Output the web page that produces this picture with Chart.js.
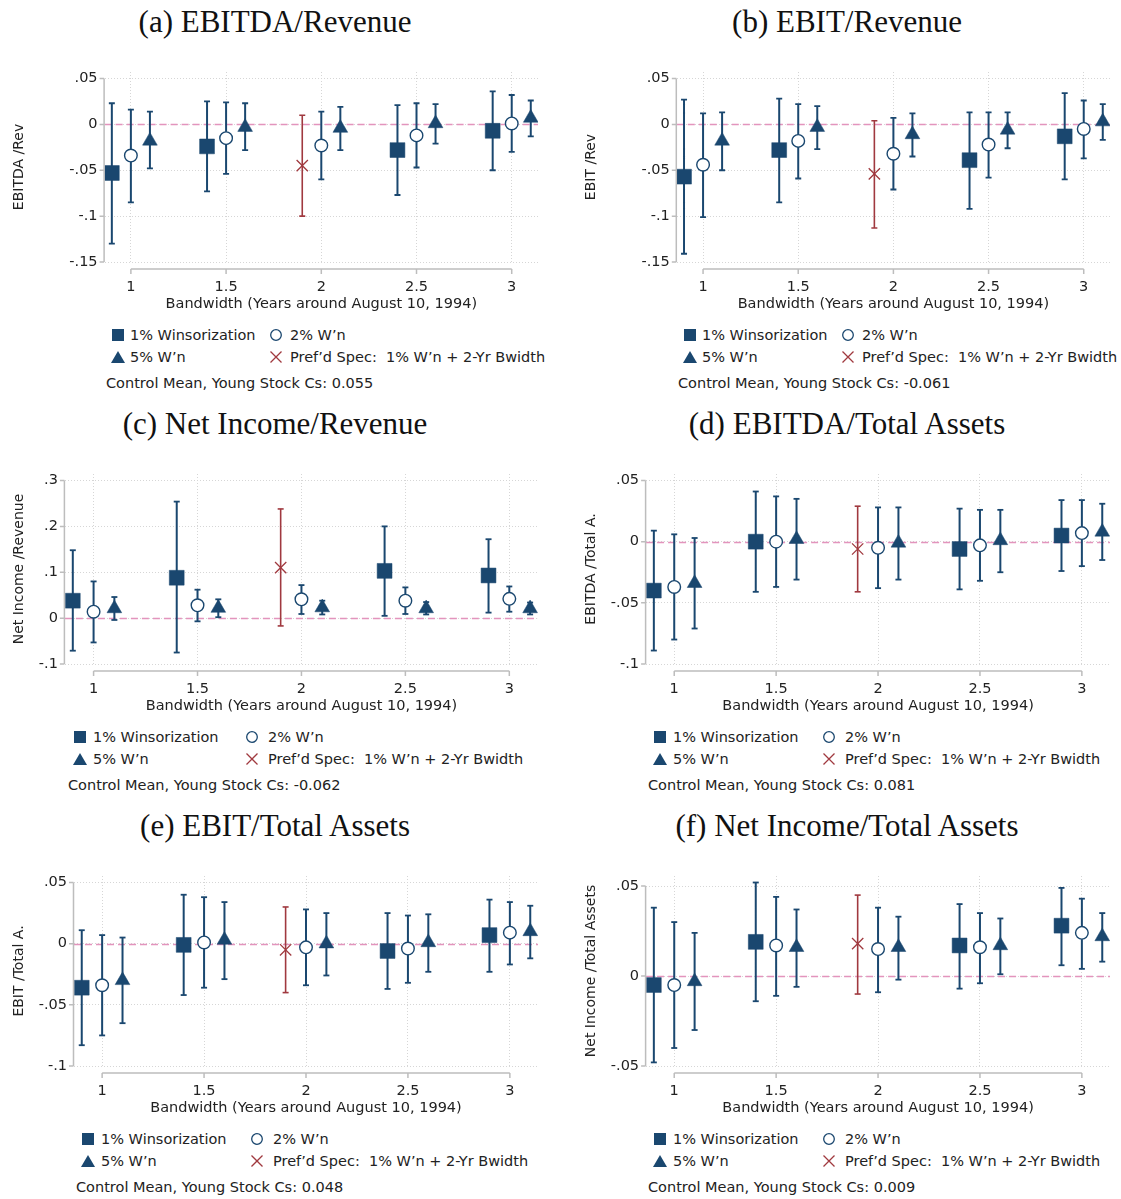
<!DOCTYPE html>
<html><head><meta charset="utf-8">
<script src="https://cdn.jsdelivr.net/npm/chart.js@4.4.1/dist/chart.umd.min.js"></script>
<style>
body{margin:0;background:#fff;}
#wrap{position:relative;width:1121px;height:1199px;overflow:hidden;font-family:"DejaVu Sans",sans-serif;color:#222;}
.ttl{position:absolute;font-family:"Liberation Serif",serif;font-size:31px;white-space:nowrap;transform:translate(-50%,-50%);color:#111;}
canvas{position:absolute;}
.lg{position:absolute;font-size:14.5px;white-space:nowrap;transform:translateY(-50%);color:#222;}
.mk{position:absolute;transform:translate(-50%,-50%);line-height:0;}
</style></head>
<body><div id="wrap"></div>
<script>
// ---------- shared axis data ----------
const bandwidths = [1, 1.5, 2, 2.5, 3];
const xTickLabels = ["1", "1.5", "2", "2.5", "3"];
const xAxisTitle = "Bandwidth (Years around August 10, 1994)";
const seriesNames = ["1% Winsorization", "2% W\u2019n", "5% W\u2019n", "Pref\u2019d Spec:  1% W\u2019n + 2-Yr Bwidth"];

// ---------- (a) EBITDA/Revenue ----------
const a_w1_est = [-0.053, -0.024, null, -0.028, -0.007];
const a_w1_lo  = [-0.130, -0.073, null, -0.077, -0.050];
const a_w1_hi  = [0.023, 0.025, null, 0.021, 0.036];
const a_w2_est = [-0.034, -0.015, -0.023, -0.012, 0.001];
const a_w2_lo  = [-0.085, -0.054, -0.060, -0.047, -0.030];
const a_w2_hi  = [0.016, 0.024, 0.014, 0.023, 0.032];
const a_w5_est = [-0.018, -0.003, -0.004, 0.001, 0.007];
const a_w5_lo  = [-0.048, -0.028, -0.028, -0.021, -0.013];
const a_w5_hi  = [0.014, 0.023, 0.019, 0.022, 0.026];
const a_pref_est = [null, null, -0.045, null, null];
const a_pref_lo  = [null, null, -0.100, null, null];
const a_pref_hi  = [null, null, 0.010, null, null];
const a_yTicks = [-0.15, -0.1, -0.05, 0, 0.05];
const a_yTickLabels = ["-.15", "-.1", "-.05", "0", ".05"];
const a_controlMean = "0.055";

// ---------- (b) EBIT/Revenue ----------
const b_w1_est = [-0.057, -0.028, null, -0.039, -0.013];
const b_w1_lo  = [-0.141, -0.085, null, -0.092, -0.060];
const b_w1_hi  = [0.027, 0.028, null, 0.013, 0.034];
const b_w2_est = [-0.044, -0.018, -0.032, -0.022, -0.005];
const b_w2_lo  = [-0.101, -0.059, -0.071, -0.058, -0.037];
const b_w2_hi  = [0.012, 0.022, 0.007, 0.013, 0.026];
const b_w5_est = [-0.018, -0.003, -0.011, -0.006, 0.003];
const b_w5_lo  = [-0.050, -0.027, -0.035, -0.026, -0.017];
const b_w5_hi  = [0.013, 0.020, 0.012, 0.013, 0.022];
const b_pref_est = [null, null, -0.054, null, null];
const b_pref_lo  = [null, null, -0.113, null, null];
const b_pref_hi  = [null, null, 0.004, null, null];
const b_yTicks = [-0.15, -0.1, -0.05, 0, 0.05];
const b_yTickLabels = ["-.15", "-.1", "-.05", "0", ".05"];
const b_controlMean = "-0.061";

// ---------- (c) Net Income/Revenue ----------
const c_w1_est = [0.038, 0.088, null, 0.103, 0.093];
const c_w1_lo  = [-0.071, -0.075, null, 0.005, 0.012];
const c_w1_hi  = [0.148, 0.254, null, 0.200, 0.172];
const c_w2_est = [0.014, 0.028, 0.041, 0.038, 0.042];
const c_w2_lo  = [-0.053, -0.007, 0.009, 0.009, 0.014];
const c_w2_hi  = [0.080, 0.062, 0.072, 0.067, 0.069];
const c_w5_est = [0.021, 0.022, 0.023, 0.021, 0.021];
const c_w5_lo  = [-0.004, 0.002, 0.008, 0.008, 0.008];
const c_w5_hi  = [0.046, 0.041, 0.038, 0.035, 0.034];
const c_pref_est = [null, null, 0.110, null, null];
const c_pref_lo  = [null, null, -0.017, null, null];
const c_pref_hi  = [null, null, 0.238, null, null];
const c_yTicks = [-0.1, 0, 0.1, 0.2, 0.3];
const c_yTickLabels = ["-.1", "0", ".1", ".2", ".3"];
const c_controlMean = "-0.062";

// ---------- (d) EBITDA/Total Assets ----------
const d_w1_est = [-0.040, 0.000, null, -0.006, 0.005];
const d_w1_lo  = [-0.089, -0.041, null, -0.039, -0.024];
const d_w1_hi  = [0.009, 0.041, null, 0.027, 0.034];
const d_w2_est = [-0.037, 0.000, -0.005, -0.003, 0.007];
const d_w2_lo  = [-0.080, -0.037, -0.038, -0.032, -0.020];
const d_w2_hi  = [0.006, 0.037, 0.028, 0.026, 0.034];
const d_w5_est = [-0.034, 0.002, -0.001, 0.001, 0.008];
const d_w5_lo  = [-0.071, -0.031, -0.031, -0.025, -0.015];
const d_w5_hi  = [0.003, 0.035, 0.028, 0.026, 0.031];
const d_pref_est = [null, null, -0.006, null, null];
const d_pref_lo  = [null, null, -0.041, null, null];
const d_pref_hi  = [null, null, 0.029, null, null];
const d_yTicks = [-0.1, -0.05, 0, 0.05];
const d_yTickLabels = ["-.1", "-.05", "0", ".05"];
const d_controlMean = "0.081";

// ---------- (e) EBIT/Total Assets ----------
const e_w1_est = [-0.036, -0.001, null, -0.006, 0.007];
const e_w1_lo  = [-0.083, -0.042, null, -0.037, -0.023];
const e_w1_hi  = [0.011, 0.040, null, 0.025, 0.036];
const e_w2_est = [-0.034, 0.001, -0.003, -0.004, 0.009];
const e_w2_lo  = [-0.075, -0.036, -0.034, -0.032, -0.017];
const e_w2_hi  = [0.007, 0.038, 0.028, 0.023, 0.034];
const e_w5_est = [-0.030, 0.003, 0.000, 0.001, 0.010];
const e_w5_lo  = [-0.065, -0.029, -0.026, -0.023, -0.012];
const e_w5_hi  = [0.005, 0.034, 0.025, 0.024, 0.031];
const e_pref_est = [null, null, -0.005, null, null];
const e_pref_lo  = [null, null, -0.040, null, null];
const e_pref_hi  = [null, null, 0.030, null, null];
const e_yTicks = [-0.1, -0.05, 0, 0.05];
const e_yTickLabels = ["-.1", "-.05", "0", ".05"];
const e_controlMean = "0.048";

// ---------- (f) Net Income/Total Assets ----------
const f_w1_est = [-0.005, 0.019, null, 0.017, 0.028];
const f_w1_lo  = [-0.048, -0.014, null, -0.007, 0.006];
const f_w1_hi  = [0.038, 0.052, null, 0.040, 0.049];
const f_w2_est = [-0.005, 0.017, 0.015, 0.016, 0.024];
const f_w2_lo  = [-0.040, -0.011, -0.009, -0.004, 0.004];
const f_w2_hi  = [0.030, 0.044, 0.038, 0.035, 0.043];
const f_w5_est = [-0.003, 0.016, 0.016, 0.017, 0.022];
const f_w5_lo  = [-0.030, -0.006, -0.002, 0.001, 0.008];
const f_w5_hi  = [0.024, 0.037, 0.033, 0.032, 0.035];
const f_pref_est = [null, null, 0.018, null, null];
const f_pref_lo  = [null, null, -0.010, null, null];
const f_pref_hi  = [null, null, 0.045, null, null];
const f_yTicks = [-0.05, 0, 0.05];
const f_yTickLabels = ["-.05", "0", ".05"];
const f_controlMean = "0.009";

// ---------- panel tables built from the arrays ----------
const panels = [
  {title:"(a) EBITDA/Revenue", ylab:"EBITDA /Rev", mean:a_controlMean, yTicks:a_yTicks, yLabels:a_yTickLabels,
   w1:[a_w1_est,a_w1_lo,a_w1_hi], w2:[a_w2_est,a_w2_lo,a_w2_hi], w5:[a_w5_est,a_w5_lo,a_w5_hi], pref:[a_pref_est,a_pref_lo,a_pref_hi]},
  {title:"(b) EBIT/Revenue", ylab:"EBIT /Rev", mean:b_controlMean, yTicks:b_yTicks, yLabels:b_yTickLabels,
   w1:[b_w1_est,b_w1_lo,b_w1_hi], w2:[b_w2_est,b_w2_lo,b_w2_hi], w5:[b_w5_est,b_w5_lo,b_w5_hi], pref:[b_pref_est,b_pref_lo,b_pref_hi]},
  {title:"(c) Net Income/Revenue", ylab:"Net Income /Revenue", mean:c_controlMean, yTicks:c_yTicks, yLabels:c_yTickLabels,
   w1:[c_w1_est,c_w1_lo,c_w1_hi], w2:[c_w2_est,c_w2_lo,c_w2_hi], w5:[c_w5_est,c_w5_lo,c_w5_hi], pref:[c_pref_est,c_pref_lo,c_pref_hi]},
  {title:"(d) EBITDA/Total Assets", ylab:"EBITDA /Total A.", mean:d_controlMean, yTicks:d_yTicks, yLabels:d_yTickLabels,
   w1:[d_w1_est,d_w1_lo,d_w1_hi], w2:[d_w2_est,d_w2_lo,d_w2_hi], w5:[d_w5_est,d_w5_lo,d_w5_hi], pref:[d_pref_est,d_pref_lo,d_pref_hi]},
  {title:"(e) EBIT/Total Assets", ylab:"EBIT /Total A.", mean:e_controlMean, yTicks:e_yTicks, yLabels:e_yTickLabels,
   w1:[e_w1_est,e_w1_lo,e_w1_hi], w2:[e_w2_est,e_w2_lo,e_w2_hi], w5:[e_w5_est,e_w5_lo,e_w5_hi], pref:[e_pref_est,e_pref_lo,e_pref_hi]},
  {title:"(f) Net Income/Total Assets", ylab:"Net Income /Total Assets", mean:f_controlMean, yTicks:f_yTicks, yLabels:f_yTickLabels,
   w1:[f_w1_est,f_w1_lo,f_w1_hi], w2:[f_w2_est,f_w2_lo,f_w2_hi], w5:[f_w5_est,f_w5_lo,f_w5_hi], pref:[f_pref_est,f_pref_lo,f_pref_hi]}
];

// ---------- layout / style (not data) ----------
const LAYOUT = [
  {left:0,   top:0,   area:104.6, leg:[118,130,276,290,106]},
  {left:572, top:0,   area:104.8, leg:[118,130,276,290,106]},
  {left:0,   top:402, area:64.9,  leg:[80,93,252,268,68]},
  {left:572, top:402, area:74.1,  leg:[88,101,257,273,76]},
  {left:0,   top:804, area:74.0,  leg:[88,101,257,273,76]},
  {left:572, top:804, area:74.1,  leg:[88,101,257,273,76]}
];
const NAVY = "#1a476f", MAROON = "#a0393f";
const DODGE = {w1:-0.1, w2:0, w5:0.1, pref:-0.1};
const CANVAS_W = 549, CANVAS_H = 270, CANVAS_DY = 45, AREA_TOP = 27, AREA_BOTTOM = 217, TOP_PAD_PX = 6.5;
const FONT = "DejaVu Sans";

Chart.defaults.font.family = FONT;
Chart.defaults.font.size = 14.5;
Chart.defaults.color = "#222";

function markerPts(est, off){
  const d = [];
  est.forEach((v,i)=>{ if(v!==null) d.push({x:bandwidths[i]+off, y:v}); });
  return d;
}
function barPts(lo, hi, off){
  const d = [];
  lo.forEach((l,i)=>{ if(l!==null){ const x=bandwidths[i]+off; d.push({x, y:l},{x, y:hi[i]},{x, y:null}); } });
  return d;
}
function capPts(lo, hi, off){
  const d = [];
  lo.forEach((l,i)=>{ if(l!==null){ const x=bandwidths[i]+off; d.push({x, y:l},{x, y:hi[i]}); } });
  return d;
}

const refLine = {
  id:'refLine',
  beforeDatasetsDraw(c){
    const {ctx, chartArea:a, scales:{y}} = c;
    const py = Math.round(y.getPixelForValue(0)) + 0.5;
    ctx.save();
    ctx.strokeStyle = "#e394bd"; ctx.lineWidth = 1.3; ctx.setLineDash([7,4]);
    ctx.beginPath(); ctx.moveTo(a.left, py); ctx.lineTo(a.right, py); ctx.stroke();
    ctx.restore();
  }
};
const axisLines = {
  id:'axisLines',
  afterDraw(c, args, opts){
    const {ctx, chartArea:a, scales:{x,y}} = c;
    const yt = opts.yTicks, xt = opts.xTicks;
    ctx.save();
    ctx.strokeStyle = "#bdbdbd"; ctx.lineWidth = 1.5;
    const ax = a.left - 0.5;
    ctx.beginPath();
    ctx.moveTo(ax, y.getPixelForValue(yt[0])); ctx.lineTo(ax, y.getPixelForValue(yt[yt.length-1]));
    yt.forEach(v=>{ const p=y.getPixelForValue(v); ctx.moveTo(ax, p); ctx.lineTo(ax-4.5, p); });
    const ay = a.bottom + 7;
    ctx.moveTo(x.getPixelForValue(xt[0]), ay); ctx.lineTo(x.getPixelForValue(xt[xt.length-1]), ay);
    xt.forEach(v=>{ const p=x.getPixelForValue(v); ctx.moveTo(p, ay); ctx.lineTo(p, ay+5); });
    ctx.stroke();
    ctx.restore();
  }
};

const wrap = document.getElementById('wrap');
function svgMarker(kind){
  if(kind==='sq') return '<svg width="14" height="14"><rect x="1" y="1" width="12" height="12" fill="'+NAVY+'"/></svg>';
  if(kind==='ci') return '<svg width="14" height="14"><circle cx="7" cy="7" r="5.3" fill="none" stroke="'+NAVY+'" stroke-width="1.3"/></svg>';
  if(kind==='tr') return '<svg width="16" height="14"><polygon points="8,1 15,13 1,13" fill="'+NAVY+'"/></svg>';
  return '<svg width="14" height="14"><path d="M1.5,1.5L12.5,12.5M12.5,1.5L1.5,12.5" stroke="'+MAROON+'" stroke-width="1.3" fill="none"/></svg>';
}
function addEl(cls, html, x, y){
  const el = document.createElement('div'); el.className = cls; el.innerHTML = html;
  el.style.left = x + 'px'; el.style.top = y + 'px'; wrap.appendChild(el); return el;
}

panels.forEach((p, k)=>{
  const L = LAYOUT[k];
  addEl('ttl', p.title, L.left + 275, L.top + 22);

  const cv = document.createElement('canvas');
  cv.width = CANVAS_W; cv.height = CANVAS_H;
  cv.style.left = L.left + 'px'; cv.style.top = (L.top + CANVAS_DY) + 'px';
  cv.style.width = CANVAS_W + 'px'; cv.style.height = CANVAS_H + 'px';
  wrap.appendChild(cv);

  const allHi = [].concat(p.w1[2], p.w2[2], p.w5[2], p.pref[2]).filter(v=>v!==null);
  const yMin = p.yTicks[0];
  const axisMax = Math.max(p.yTicks[p.yTicks.length-1], ...allHi);
  const span = AREA_BOTTOM - AREA_TOP - TOP_PAD_PX;
  const yMax = axisMax + (axisMax - yMin) * TOP_PAD_PX / span;

  const datasets = [
    {label:seriesNames[3], data:markerPts(p.pref[0], DODGE.pref), pointStyle:'crossRot', pointRadius:8, borderColor:MAROON, borderWidth:1.3, backgroundColor:MAROON},
    {label:seriesNames[0], data:markerPts(p.w1[0], DODGE.w1), pointStyle:'rect', pointRadius:10.5, borderColor:NAVY, borderWidth:0.5, backgroundColor:NAVY},
    {label:seriesNames[1], data:markerPts(p.w2[0], DODGE.w2), pointStyle:'circle', pointRadius:6.3, borderColor:NAVY, borderWidth:1.4, backgroundColor:'#ffffff'},
    {label:seriesNames[2], data:markerPts(p.w5[0], DODGE.w5), pointStyle:'triangle', pointRadius:8.5, borderColor:NAVY, borderWidth:0.5, backgroundColor:NAVY},
    // confidence interval caps
    {label:'caps', data:[].concat(capPts(p.w1[1],p.w1[2],DODGE.w1), capPts(p.w2[1],p.w2[2],DODGE.w2), capPts(p.w5[1],p.w5[2],DODGE.w5)), pointStyle:'line', pointRadius:3, borderColor:NAVY, borderWidth:1.8},
    {label:'capsPref', data:capPts(p.pref[1],p.pref[2],DODGE.pref), pointStyle:'line', pointRadius:3, borderColor:MAROON, borderWidth:1.6},
    // confidence interval lines
    {label:'ci', data:[].concat(barPts(p.w1[1],p.w1[2],DODGE.w1), barPts(p.w2[1],p.w2[2],DODGE.w2), barPts(p.w5[1],p.w5[2],DODGE.w5)), showLine:true, spanGaps:false, pointRadius:0, borderColor:NAVY, borderWidth:2},
    {label:'ciPref', data:barPts(p.pref[1],p.pref[2],DODGE.pref), showLine:true, spanGaps:false, pointRadius:0, borderColor:MAROON, borderWidth:1.6}
  ];

  new Chart(cv, {
    type:'scatter',
    data:{datasets},
    options:{
      responsive:false, animation:false, devicePixelRatio:1,
      layout:{padding:{top:AREA_TOP, right:CANVAS_W - 545, left:0, bottom:0}},
      plugins:{legend:{display:false}, tooltip:{enabled:false},
               axisLines:{yTicks:p.yTicks, xTicks:bandwidths}},
      scales:{
        x:{type:'linear', min:bandwidths[0]-0.138, max:bandwidths[bandwidths.length-1]+0.138,
           afterBuildTicks:(s)=>{ s.ticks = bandwidths.map(v=>({value:v})); },
           afterFit:(s)=>{ s.height = CANVAS_H - AREA_BOTTOM; },
           ticks:{autoSkip:false, maxRotation:0, padding:17, color:'#222', callback:(v,i)=>xTickLabels[i]},
           grid:{color:'#d6d6d6', lineWidth:1, drawTicks:false},
           border:{display:false, dash:[1,2]},
           title:{display:true, text:xAxisTitle, color:'#222', font:{size:14.5}, padding:{top:0,bottom:2}}},
        y:{type:'linear', min:yMin, max:yMax,
           afterBuildTicks:(s)=>{ s.ticks = p.yTicks.map(v=>({value:v})); },
           afterFit:(s)=>{ s.width = L.area; },
           ticks:{autoSkip:false, padding:7, color:'#222', callback:(v,i)=>p.yLabels[i]},
           grid:{color:'#d6d6d6', lineWidth:1, drawTicks:false},
           border:{display:false, dash:[1,2]},
           title:{display:true, text:p.ylab, color:'#222', font:{size:14}, padding:{top:10.5,bottom:0}}}
      }
    },
    plugins:[refLine, axisLines]
  });

  // legend (HTML text)
  const lg = L.leg, ly1 = L.top + 335, ly2 = L.top + 357, ly3 = L.top + 383;
  addEl('mk', svgMarker('sq'), L.left + lg[0], ly1);
  addEl('lg', seriesNames[0], L.left + lg[1], ly1);
  addEl('mk', svgMarker('ci'), L.left + lg[2], ly1);
  addEl('lg', seriesNames[1], L.left + lg[3], ly1);
  addEl('mk', svgMarker('tr'), L.left + lg[0], ly2);
  addEl('lg', seriesNames[2], L.left + lg[1], ly2);
  addEl('mk', svgMarker('x'), L.left + lg[2], ly2);
  addEl('lg', seriesNames[3].replace(/ /g,'&nbsp;'), L.left + lg[3], ly2);
  addEl('lg', 'Control Mean, Young Stock Cs: ' + p.mean, L.left + lg[4], ly3);
});
</script>
</body></html>
